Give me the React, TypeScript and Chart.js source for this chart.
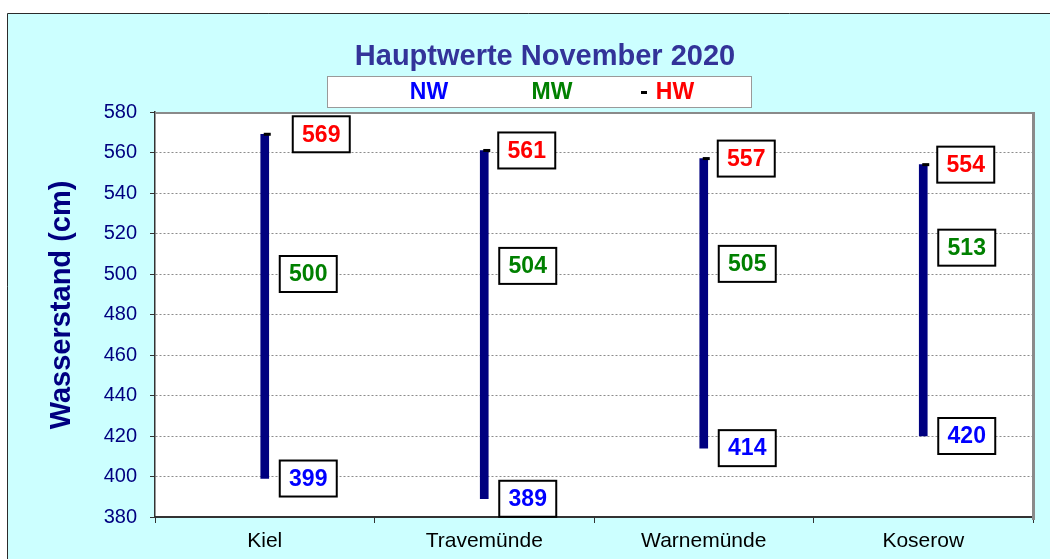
import { useEffect, useRef } from 'react';
import { Chart, registerables } from 'chart.js';

Chart.register(...registerables);

const stations = ['Kiel', 'Travemünde', 'Warnemünde', 'Koserow'];
const nwValues = [399, 389, 414, 420];
const mwValues = [500, 504, 505, 513];
const hwValues = [569, 561, 557, 554];
const yMin = 380;
const yMax = 580;
const yStep = 20;
const titleText = 'Hauptwerte November 2020';
const yAxisTitle = 'Wasserstand (cm)';
const legendNames = ['NW', 'MW', 'HW'];

const FONT = 'Arial, "Liberation Sans", sans-serif';
const NW_COLOR = '#0000FF';
const MW_COLOR = '#008000';
const HW_COLOR = '#FF0000';
const BAR_COLOR = '#000080';

const decorPlugin = {
  id: 'decor',
  beforeDraw(chart: any) {
    const { ctx, width, height, chartArea } = chart;
    ctx.save();
    ctx.fillStyle = '#ffffff';
    ctx.fillRect(0, 0, width, height);
    ctx.fillStyle = '#CCFFFF';
    ctx.fillRect(7, 13, width - 7, height - 13);
    ctx.strokeStyle = '#2b2b2b';
    ctx.lineWidth = 1;
    ctx.beginPath();
    ctx.moveTo(7.5, height);
    ctx.lineTo(7.5, 13.5);
    ctx.lineTo(width, 13.5);
    ctx.stroke();
    ctx.fillStyle = '#ffffff';
    ctx.fillRect(chartArea.left, chartArea.top, chartArea.right - chartArea.left, chartArea.bottom - chartArea.top);
    ctx.restore();
  },
  afterDatasetsDraw(chart: any) {
    const { ctx, chartArea } = chart;
    const xs = chart.scales.x;
    const ys = chart.scales.y;
    ctx.save();
    ctx.strokeStyle = '#8a8a8a';
    ctx.lineWidth = 2;
    ctx.beginPath();
    ctx.moveTo(chartArea.left, chartArea.top + 1);
    ctx.lineTo(chartArea.right + 1, chartArea.top + 1);
    ctx.stroke();
    ctx.lineWidth = 3;
    ctx.beginPath();
    ctx.moveTo(chartArea.right + 0.5, chartArea.top);
    ctx.lineTo(chartArea.right + 0.5, chartArea.bottom + 3);
    ctx.stroke();

    const drawBox = (x: number, y: number, text: string, color: string) => {
      const w = 57;
      const h = 36;
      ctx.fillStyle = '#ffffff';
      ctx.fillRect(x, y - h / 2, w, h);
      ctx.strokeStyle = '#000000';
      ctx.lineWidth = 2;
      ctx.strokeRect(x, y - h / 2, w, h);
      ctx.fillStyle = color;
      ctx.font = `bold 23px ${FONT}`;
      ctx.textAlign = 'center';
      ctx.textBaseline = 'middle';
      ctx.fillText(text, x + w / 2, y + 1);
    };

    stations.forEach((_, i) => {
      const bx = xs.getPixelForValue(i);
      const yHw = ys.getPixelForValue(hwValues[i]);
      const yMw = ys.getPixelForValue(mwValues[i]);
      const yNw = ys.getPixelForValue(nwValues[i]);
      ctx.fillStyle = '#000000';
      ctx.fillRect(bx - 1, yHw - 1.5, 7, 3);
      // Excel pushed the first high-water label further right
      const hwShift = i === 0 ? 28 : 14;
      drawBox(bx + hwShift, yHw, String(hwValues[i]), HW_COLOR);
      drawBox(bx + 15, yMw, String(mwValues[i]), MW_COLOR);
      drawBox(bx + 15, yNw, String(nwValues[i]), NW_COLOR);
    });
    ctx.restore();
  },
  afterDraw(chart: any) {
    const { ctx } = chart;
    ctx.save();
    ctx.fillStyle = '#333399';
    ctx.font = `bold 29px ${FONT}`;
    ctx.textAlign = 'center';
    ctx.textBaseline = 'alphabetic';
    ctx.fillText(titleText, 545, 65);
    ctx.fillStyle = '#ffffff';
    ctx.fillRect(327, 76, 424, 31);
    ctx.strokeStyle = '#9a9a9a';
    ctx.lineWidth = 1;
    ctx.strokeRect(327.5, 76.5, 424, 31);
    ctx.font = `bold 23px ${FONT}`;
    ctx.textBaseline = 'middle';
    ctx.fillStyle = NW_COLOR;
    ctx.fillText(legendNames[0], 429, 93);
    ctx.fillStyle = MW_COLOR;
    ctx.fillText(legendNames[1], 552, 93);
    ctx.fillStyle = '#000000';
    ctx.fillRect(641, 91, 6, 3);
    ctx.fillStyle = HW_COLOR;
    ctx.fillText(legendNames[2], 675, 93);
    ctx.translate(62, 305);
    ctx.rotate(-Math.PI / 2);
    ctx.fillStyle = '#000080';
    ctx.font = `bold 29px ${FONT}`;
    ctx.textAlign = 'center';
    ctx.textBaseline = 'middle';
    ctx.fillText(yAxisTitle, 0, 0);
    ctx.restore();
  },
};

export default function App() {
  const canvasRef = useRef<HTMLCanvasElement | null>(null);

  useEffect(() => {
    document.body.style.margin = '0';
    const canvas = canvasRef.current;
    if (!canvas) return;
    Chart.defaults.font.family = FONT;
    const chart = new Chart(canvas, {
      type: 'bar',
      data: {
        labels: stations,
        datasets: [
          {
            label: 'NW-HW',
            data: stations.map((_, i) => [nwValues[i], hwValues[i]]) as any,
            backgroundColor: BAR_COLOR,
            borderWidth: 0,
            barThickness: 8,
            grouped: false,
          },
        ],
      },
      options: {
        responsive: false,
        animation: false,
        layout: { padding: { top: 112, right: 17, bottom: 0, left: 0 } },
        plugins: {
          legend: { display: false },
          title: { display: false },
          tooltip: { enabled: false },
        },
        scales: {
          x: {
            offset: true,
            ticks: { color: '#000000', font: { size: 21 }, padding: 6 },
            grid: {
              offset: true,
              drawOnChartArea: false,
              tickLength: 6,
              tickColor: '#333333',
              color: '#333333',
            },
            border: { color: '#333333', width: 2 },
            afterFit: (s: any) => {
              s.height = 42;
            },
          },
          y: {
            min: yMin,
            max: yMax,
            ticks: { stepSize: yStep, color: '#000080', font: { size: 20 }, padding: 13 },
            grid: {
              color: '#8c8c8c',
              tickColor: '#333333',
              tickLength: 5,
              tickBorderDash: [],
              lineWidth: 1,
            },
            border: { display: true, color: '#333333', width: 1.5, dash: [2, 2] },
            afterFit: (s: any) => {
              s.width = 155;
            },
          },
        },
      },
      plugins: [decorPlugin],
    });
    return () => chart.destroy();
  }, []);

  return (
    <div style={{ width: 1050, height: 559 }}>
      <canvas ref={canvasRef} width={1050} height={559} />
    </div>
  );
}
